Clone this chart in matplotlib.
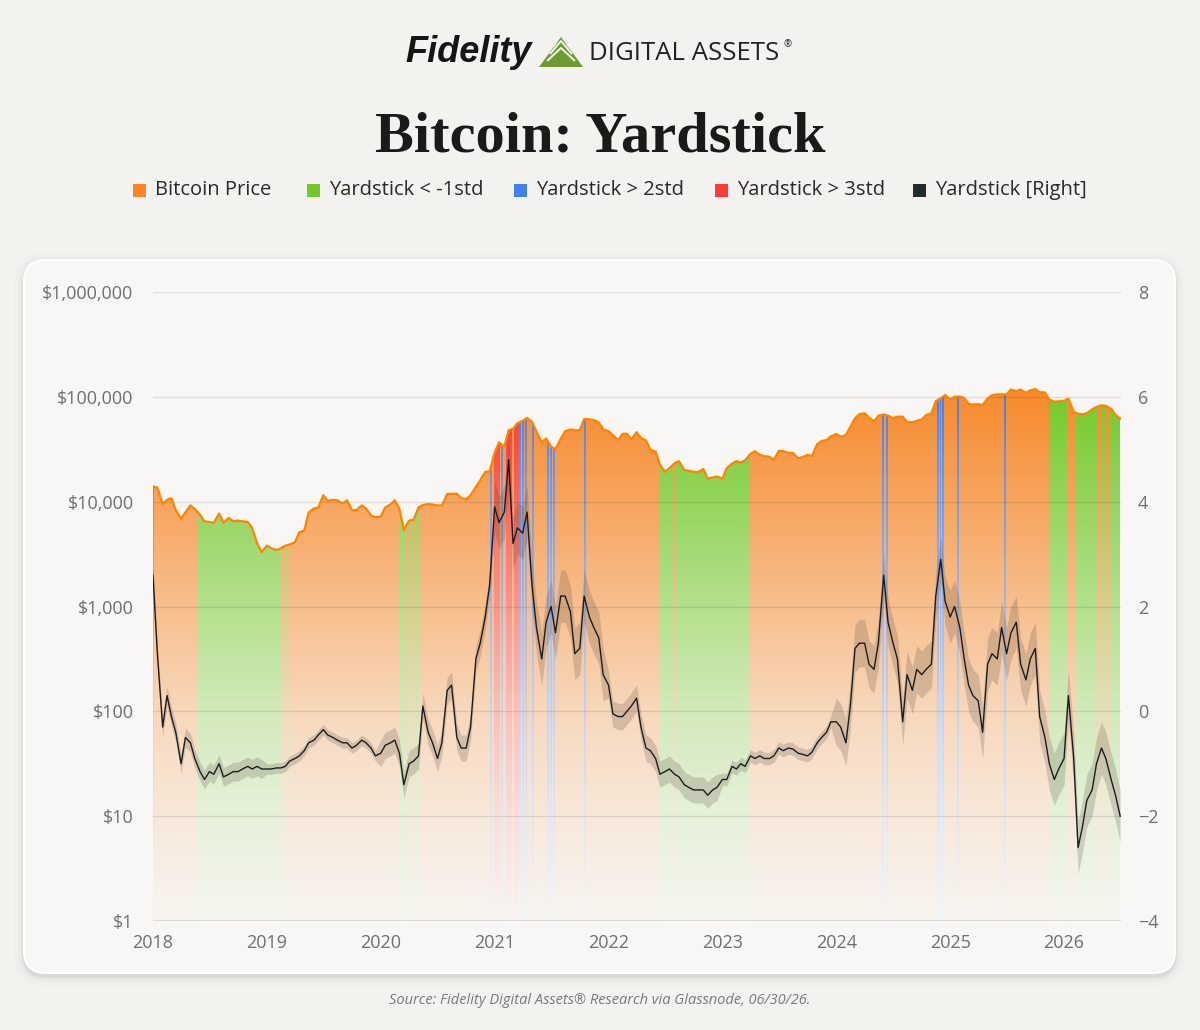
import numpy as np
import pandas as pd
import matplotlib
matplotlib.use("Agg")
import matplotlib.pyplot as plt
import matplotlib.transforms as mtransforms
from matplotlib.patches import FancyBboxPatch, Rectangle, Polygon
from matplotlib.ticker import NullLocator

plt.rcParams['font.family'] = ['Open Sans', 'DejaVu Sans']

# --- data: semi-monthly readings (1st and 15th), last point 2026-06-30 ---
price_2018 = [14000, 13600, 9500, 10400, 10800, 8300, 6900, 7900, 9200, 8500, 7500, 6500,
              6400, 6300, 7700, 6300, 7000, 6500, 6600, 6500, 6400, 5600, 4000, 3300]
price_2019 = [3800, 3600, 3450, 3600, 3800, 3900, 4100, 5100, 5300, 7900, 8600, 8800,
              11500, 10200, 10400, 10300, 9600, 10300, 8300, 8300, 9200, 8600, 7400, 7100]
price_2020 = [7200, 8800, 9400, 10300, 8500, 5400, 6600, 6700, 8800, 9300, 9500, 9400,
              9200, 9200, 11800, 11900, 11900, 10800, 10600, 11500, 13800, 16000, 19200, 19400]
price_2021 = [29400, 36800, 33500, 48000, 49600, 56000, 59000, 63000, 57800, 46700, 36700, 40100,
              33500, 31800, 39900, 47000, 48800, 48100, 48100, 61500, 61000, 60000, 57000, 48900]
price_2022 = [47000, 43000, 38700, 44500, 44400, 39300, 46000, 40500, 38400, 31300, 30000, 22500,
              19300, 20800, 23300, 24300, 20000, 19700, 19300, 19100, 20500, 16600, 17000, 17400]
price_2023 = [16600, 20900, 23100, 24300, 23600, 24900, 28500, 30300, 28000, 27200, 26800, 25000,
              30600, 30300, 29200, 29200, 25900, 26600, 28000, 27200, 35400, 37900, 38700, 42000]
price_2024 = [44200, 41700, 43100, 51900, 62400, 68400, 69700, 63400, 58300, 66200, 67800, 66000,
              62700, 64700, 64600, 57600, 57300, 59100, 60800, 67000, 69500, 91000, 97000, 104000]
price_2025 = [94400, 100500, 100600, 97500, 86000, 84300, 85100, 83600, 96500, 103700, 105600, 105500,
              105700, 117700, 113300, 117400, 109200, 115300, 118600, 110700, 110000, 94500, 90000, 90500]
price_2026 = [92000, 96000, 72000, 69000, 68000, 70000, 76000, 80000, 83000, 82000, 77000, 67000, 62000]

yard_2018 = [2.6, 1.1, -0.3, 0.3, -0.1, -0.4, -1.0, -0.5, -0.6, -0.9, -1.15, -1.3,
             -1.15, -1.2, -1.0, -1.25, -1.2, -1.15, -1.15, -1.1, -1.05, -1.1, -1.05, -1.1]
yard_2019 = [-1.1, -1.1, -1.08, -1.08, -1.05, -0.95, -0.9, -0.85, -0.75, -0.6, -0.55, -0.45,
             -0.35, -0.45, -0.5, -0.55, -0.6, -0.6, -0.7, -0.65, -0.55, -0.6, -0.7, -0.85]
yard_2020 = [-0.8, -0.65, -0.6, -0.55, -0.8, -1.4, -1.0, -0.95, -0.85, 0.1, -0.4, -0.6,
             -0.9, -0.6, 0.4, 0.5, -0.5, -0.7, -0.7, -0.3, 1.0, 1.3, 1.8, 2.4]
yard_2021 = [3.9, 3.6, 3.8, 4.8, 3.2, 3.5, 3.4, 3.8, 2.4, 1.6, 1.0, 1.7,
             2.0, 1.5, 2.2, 2.2, 1.9, 1.1, 1.2, 2.2, 1.8, 1.6, 1.4, 0.7]
yard_2022 = [0.5, -0.05, -0.1, -0.1, 0.0, 0.1, 0.25, -0.3, -0.7, -0.75, -0.9, -1.2,
             -1.15, -1.1, -1.2, -1.25, -1.4, -1.45, -1.5, -1.5, -1.5, -1.6, -1.5, -1.45]
yard_2023 = [-1.3, -1.3, -1.05, -1.1, -1.0, -1.05, -0.85, -0.9, -0.85, -0.9, -0.9, -0.85,
             -0.7, -0.75, -0.7, -0.72, -0.8, -0.82, -0.85, -0.78, -0.6, -0.5, -0.4, -0.2]
yard_2024 = [-0.2, -0.3, -0.6, 0.1, 1.2, 1.3, 1.3, 0.9, 0.8, 1.3, 2.6, 1.7,
             1.3, 1.0, -0.2, 0.7, 0.4, 0.8, 0.7, 0.8, 0.9, 2.2, 2.9, 2.1]
yard_2025 = [1.8, 2.0, 1.6, 1.0, 0.5, 0.3, 0.2, -0.4, 0.9, 1.1, 1.0, 1.6,
             1.1, 1.5, 1.7, 0.9, 0.6, 1.0, 1.2, -0.1, -0.5, -1.0, -1.3, -1.1]
yard_2026 = [-0.9, 0.3, -0.9, -2.6, -2.2, -1.7, -1.5, -1.0, -0.7, -0.9, -1.3, -1.6, -2.0]

# half-width of the day-to-day scatter of the yardstick, by year 2018..2026
yard_scatter = [0.18, 0.1, 0.25, 0.5, 0.25, 0.12, 0.45, 0.5, 0.5]

# signal periods (decimal years)
green_spans = [(2018.39, 2019.13), (2019.14, 2019.147), (2019.17, 2019.177), (2019.197, 2019.204),
               (2020.17, 2020.215), (2020.228, 2020.25), (2020.263, 2020.29), (2020.31, 2020.345),
               (2022.449, 2022.574), (2022.581, 2023.146), (2023.153, 2023.202), (2023.208, 2023.24),
               (2025.867, 2025.905), (2025.912, 2025.935), (2025.943, 2026.03),
               (2026.10, 2026.276), (2026.282, 2026.298), (2026.304, 2026.318), (2026.324, 2026.347),
               (2026.353, 2026.368), (2026.374, 2026.388), (2026.394, 2026.418), (2026.424, 2026.448),
               (2026.454, 2026.5)]
red_spans = [(2020.99, 2021.05), (2021.10, 2021.155), (2021.166, 2021.219)]
blue_days = [2018.004, 2020.968, 2021.063, 2021.225, 2021.248, 2021.278, 2021.337, 2021.465,
             2021.495, 2021.524, 2021.79, 2024.41, 2024.445, 2024.89, 2024.915, 2024.935,
             2025.068, 2025.48]

legend_labels = ["Bitcoin Price", "Yardstick < -1std", "Yardstick > 2std", "Yardstick > 3std", "Yardstick [Right]"]
legend_colors = ["#f7862a", "#72c926", "#3d82f0", "#fa3c3c", "#232a2b"]

dates = pd.date_range("2018-01-01", "2026-06-15", freq="SMS").append(pd.DatetimeIndex(["2026-06-30"]))
t = np.asarray(dates.year + (dates.dayofyear - 1) / 365.25, float)
price = np.array(price_2018 + price_2019 + price_2020 + price_2021 + price_2022 +
                 price_2023 + price_2024 + price_2025 + price_2026, float)
yard = np.array(yard_2018 + yard_2019 + yard_2020 + yard_2021 + yard_2022 +
                yard_2023 + yard_2024 + yard_2025 + yard_2026, float)
scatter = np.array(yard_scatter)[np.asarray(dates.year) - 2018]

W, H = 1200, 1030
fig = plt.figure(figsize=(W / 100, H / 100), dpi=100)
fig.patch.set_facecolor('#f3f2ef')
px = mtransforms.Affine2D().scale(0.01) + fig.dpi_scale_trans

# card with soft shadow
for grow, a in [(10, 0.012), (6, 0.02), (3, 0.03), (1.5, 0.04)]:
    fig.add_artist(FancyBboxPatch((24 - grow, H - 973 - grow - 3), 1151 + 2 * grow, 713 + 2 * grow,
                                  boxstyle=f"round,pad=0,rounding_size={22 + grow}",
                                  transform=px, fc='black', ec='none', alpha=a, zorder=-3))
fig.add_artist(FancyBboxPatch((24, H - 973), 1151, 713, boxstyle="round,pad=0,rounding_size=22",
                              transform=px, fc='#f8f7f5', ec='white', lw=1.5, zorder=-2))

ax = fig.add_axes([153 / W, (H - 921) / H, (1121 - 153) / W, (921 - 292) / H])
ax.set_yscale('log')
ax.set_xlim(2018, 2026.5)
ax.set_ylim(1, 1e6)
ax.set_autoscale_on(False)
ax.set_facecolor('none')
for s in ax.spines.values():
    s.set_visible(False)

# gradient fill image (one column per screen pixel), clipped to the price area
x0, x1 = 2018.0, 2026.5
ncol, nrow = 968, 300
xc = x0 + (np.arange(ncol) + 0.5) * (x1 - x0) / ncol
cat = np.zeros(ncol, int)
for a, b in green_spans:
    cat[(xc >= a) & (xc <= b)] = 1
for a, b in red_spans:
    cat[(xc >= a) & (xc <= b)] = 2
for c in blue_days:
    cat[np.abs(xc - c) <= 0.008] = 3
cols = np.array([[247, 134, 38], [112, 200, 35], [248, 50, 38], [66, 122, 232]]) / 255
frac = np.linspace(1, 0, nrow)
alpha = np.interp(frac * 6, [0, 1, 2, 3, 4, 5, 6], [0.02, 0.13, 0.28, 0.5, 0.73, 0.96, 1.0])
img = np.zeros((nrow, ncol, 4))
img[:, :, :3] = cols[cat][None, :, :]
img[:, :, 3] = alpha[:, None]
im = ax.imshow(img, extent=[x0, x1, 0, 1], transform=ax.get_xaxis_transform(),
               aspect='auto', origin='upper', interpolation='nearest', zorder=1)
area = ax.fill_between(t, price, 1, facecolor='none', edgecolor='none')
im.set_clip_path(area.get_paths()[0], transform=ax.transData)
ax.plot(t, price, color='#ff8500', lw=1.6, zorder=4)

for v in 10.0 ** np.arange(1, 7):
    ax.axhline(v, color='black', alpha=0.1, lw=1, zorder=3)
ax.axhline(1, color='#d9d7d4', lw=1.3, zorder=3)

ax.set_yticks(10.0 ** np.arange(0, 7))
ax.set_yticklabels(['$1', '$10', '$100', '$1,000', '$10,000', '$100,000', '$1,000,000'])
ax.yaxis.set_minor_locator(NullLocator())
ax.set_xticks(range(2018, 2027))
ax.set_xticklabels([str(y) for y in range(2018, 2027)])
ax.tick_params(axis='y', length=0, labelsize=13, colors='#6f6f6f', pad=14)
ax.tick_params(axis='x', length=0, labelsize=13, colors='#6f6f6f', pad=9)

ax2 = ax.twinx()
ax2.set_ylim(-4, 8)
ax2.set_yticks(range(-4, 9, 2))
ax2.tick_params(axis='y', length=0, labelsize=13, colors='#6f6f6f', pad=12)
ax2.set_facecolor('none')
for s in ax2.spines.values():
    s.set_visible(False)
ax2.fill_between(t, yard - scatter, yard + scatter, color='#4a3f36', alpha=0.2, lw=0)
ax2.plot(t, yard, color='#1c1c1c', lw=1.0)

# header
fig.text(405 / W, 1 - 62 / H, "Fidelity", family=['Liberation Sans'], fontweight='bold',
         style='italic', size=26, color='#151515', ha='left', va='baseline')
fig.add_artist(Polygon([(539, H - 67), (561, H - 37), (583, H - 67)], closed=True,
                       transform=px, fc='#6e9b2f', ec='none'))
for k in range(3):
    yb = 67 - 7 - k * 7
    fig.add_artist(Polygon([(547 + k * 3, H - yb - 1), (561, H - yb + 12), (575 - k * 3, H - yb - 1)],
                           closed=False, transform=px, fill=False, ec='#f3f2ef', lw=1.4))
fig.text(589 / W, 1 - 60 / H, "DIGITAL ASSETS", size=18.5, color='#222222', ha='left', va='baseline')
fig.text(783 / W, 1 - 47 / H, "®", size=7, color='#222222', ha='left', va='baseline')
fig.text(600 / W, 1 - 152 / H, "Bitcoin: Yardstick", family=['Liberation Serif'], fontweight='bold',
         size=42, color='#1a1a1a', ha='center', va='baseline')

sq_x = [133, 307, 514, 715, 913]
for xs, lab, col in zip(sq_x, legend_labels, legend_colors):
    fig.add_artist(Rectangle((xs, H - 197), 13, 13, transform=px, fc=col, ec='none'))
    fig.text((xs + 22) / W, 1 - 190 / H, lab, size=14.5, color='#2a2a2a', ha='left', va='center')

fig.text(600 / W, 1 - 1001 / H, "Source: Fidelity Digital Assets® Research via Glassnode, 06/30/26.",
         style='italic', size=10.5, color='#7a7a7a', ha='center', va='center')

fig.savefig('out.png', dpi=100, facecolor=fig.get_facecolor())
